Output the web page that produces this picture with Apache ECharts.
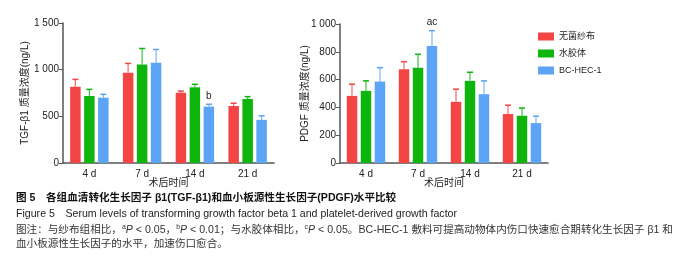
<!doctype html>
<html lang="zh">
<head>
  <meta charset="utf-8" />
  <script type="text/javascript" src="https://fastly.jsdelivr.net/npm/echarts@6.0.0/dist/echarts.min.js"></script>
</head>
<body style="margin: 0; background: #fff">
  <div id="main" style="width: 688px; height: 261px"></div>
  <script type="text/javascript">
    var categories = ['4 d', '7 d', '14 d', '21 d'];
    var groups = ['无菌纱布', '水胶体', 'BC-HEC-1'];
    var colors = ['#f44545', '#0db50d', '#5ba4f6'];

    // TGF-β1 (ng/L): mean and SD
    var tgfRed = [817, 967, 753, 611];
    var tgfGreen = [718, 1056, 811, 686];
    var tgfBlue = [700, 1073, 604, 462];
    var tgfRedSd = [79, 100, 18, 29];
    var tgfGreenSd = [71, 171, 32, 25];
    var tgfBlueSd = [36, 143, 25, 43];
    var tgfBlueSig = ['', '', 'b', ''];

    // PDGF (ng/L): mean and SD
    var pdgfRed = [483, 675, 440, 352];
    var pdgfGreen = [519, 686, 591, 340];
    var pdgfBlue = [586, 842, 495, 287];
    var pdgfRedSd = [84, 54, 91, 64];
    var pdgfGreenSd = [72, 96, 62, 55];
    var pdgfBlueSd = [100, 110, 96, 50];
    var pdgfBlueSig = ['', 'ac', '', ''];

    var tgfYTicks = [0, 500, 1000, 1500];
    var pdgfYTicks = [0, 200, 400, 600, 800, 1000];

    var FONT = '"Liberation Sans", Arial, "Noto Sans CJK SC", sans-serif';
    var AXIS = '#555';
    var BAR_W = 10.5;
    var STEP = 14;
    var CAP = 10.6;

    var chart = echarts.init(document.getElementById('main'));

    function fmt(v) {
      return v >= 1000 ? String(v).replace(/(\d)(\d{3})$/, '$1 $2') : String(v);
    }

    function xAxisOf(idx) {
      return {
        type: 'category', gridIndex: idx, data: categories,
        name: '术后时间', nameLocation: 'middle', nameGap: 15, nameMoveOverlap: false,
        nameTextStyle: { fontSize: 10, color: '#222', fontFamily: FONT },
        axisLine: { lineStyle: { color: AXIS, width: 1.5 } },
        axisTick: { alignWithLabel: true, length: 3, lineStyle: { color: AXIS } },
        axisLabel: { fontSize: 10, color: '#222', margin: 6, fontFamily: FONT }
      };
    }

    function yAxisOf(idx, name, max, interval, gap) {
      return {
        type: 'value', gridIndex: idx, min: 0, max: max, interval: interval,
        name: name, nameLocation: 'middle', nameGap: gap, nameRotate: 90, nameMoveOverlap: false,
        nameTextStyle: { fontSize: 10, color: '#222', fontFamily: FONT },
        axisLine: { show: true, lineStyle: { color: AXIS, width: 1.5 } },
        axisTick: { show: true, length: 4, lineStyle: { color: AXIS } },
        axisLabel: { fontSize: 10, color: '#222', margin: 4, fontFamily: FONT, formatter: fmt },
        splitLine: { show: false }
      };
    }

    function barSeries(idx, g, values) {
      return {
        name: groups[g], type: 'bar', xAxisIndex: idx, yAxisIndex: idx,
        data: values, barWidth: BAR_W, barGap: '33%',
        itemStyle: { color: colors[g] }, z: 2
      };
    }

    function errSeries(idx, g, values, sds, sig) {
      var data = values.map(function (v, i) { return [i, v, sds[i]]; });
      return {
        type: 'custom', xAxisIndex: idx, yAxisIndex: idx, z: 3,
        data: data, silent: true,
        renderItem: function (params, api) {
          var i = api.value(0);
          var top = api.coord([i, api.value(1) + api.value(2)]);
          var base = api.coord([i, api.value(1)]);
          var x = base[0] + (g - 1) * STEP;
          var st = { stroke: colors[g], lineWidth: 1.2, opacity: 0.8 };
          var children = [
            { type: 'line', shape: { x1: x, y1: base[1], x2: x, y2: top[1] }, style: st },
            { type: 'line', shape: { x1: x - 3, y1: top[1], x2: x + 3, y2: top[1] }, style: { stroke: colors[g], lineWidth: 1.5 } }
          ];
          if (sig && sig[i]) {
            children.push({
              type: 'text',
              style: { text: sig[i], x: x, y: top[1] - 3, align: 'center', verticalAlign: 'bottom', fontSize: 10, fill: '#222', fontFamily: FONT }
            });
          }
          return { type: 'group', children: children };
        }
      };
    }

    var rich = {
      it: { fontStyle: 'italic', fontSize: CAP, fontFamily: FONT },
      sup: { fontSize: 7, verticalAlign: 'top', padding: [0, 0, 5, 0], fontFamily: FONT },
      n: { fontSize: CAP, fontFamily: FONT }
    };

    var option = {
      animation: false,
      legend: {
        orient: 'vertical', left: 533, top: 27, itemWidth: 16, itemHeight: 8, itemGap: 8,
        icon: 'rect', data: groups,
        textStyle: { fontSize: 9, color: '#222', fontFamily: FONT }
      },
      grid: [
        { left: 63, right: 414, top: 23, bottom: 98 },
        { left: 340, right: 140, top: 24, bottom: 98 }
      ],
      xAxis: [xAxisOf(0), xAxisOf(1)],
      yAxis: [
        yAxisOf(0, 'TGF-β1 质量浓度(ng/L)', tgfYTicks[tgfYTicks.length - 1], 500, 33),
        yAxisOf(1, 'PDGF 质量浓度(ng/L)', pdgfYTicks[pdgfYTicks.length - 1], 200, 30)
      ],
      series: [
        barSeries(0, 0, tgfRed), barSeries(0, 1, tgfGreen), barSeries(0, 2, tgfBlue),
        errSeries(0, 0, tgfRed, tgfRedSd), errSeries(0, 1, tgfGreen, tgfGreenSd), errSeries(0, 2, tgfBlue, tgfBlueSd, tgfBlueSig),
        barSeries(1, 0, pdgfRed), barSeries(1, 1, pdgfGreen), barSeries(1, 2, pdgfBlue),
        errSeries(1, 0, pdgfRed, pdgfRedSd), errSeries(1, 1, pdgfGreen, pdgfGreenSd), errSeries(1, 2, pdgfBlue, pdgfBlueSd, pdgfBlueSig)
      ],
      graphic: [
        { type: 'text', left: 16, top: 193, style: { text: '图 5　各组血清转化生长因子 β1(TGF-β1)和血小板源性生长因子(PDGF)水平比较', fontSize: CAP, fontWeight: 'bold', fill: '#111', fontFamily: FONT } },
        { type: 'text', left: 16, top: 209, style: { text: 'Figure 5　Serum levels of transforming growth factor beta 1 and platelet-derived growth factor', fontSize: CAP, fill: '#222', fontFamily: FONT } },
        { type: 'text', left: 16, top: 224, style: {
          text: '{n|图注：与纱布组相比，}{sup|a}{it|P}{n| < 0.05，}{sup|b}{it|P}{n| < 0.01；与水胶体相比，}{sup|c}{it|P}{n| < 0.05。BC-HEC-1 敷料可提高动物体内伤口快速愈合期转化生长因子 β1 和}',
          fill: '#333', fontSize: CAP, fontFamily: FONT, rich: rich } },
        { type: 'text', left: 16, top: 239, style: { text: '血小板源性生长因子的水平，加速伤口愈合。', fontSize: CAP, fill: '#333', fontFamily: FONT } }
      ]
    };
    chart.setOption(option);
  </script>
</body>
</html>
